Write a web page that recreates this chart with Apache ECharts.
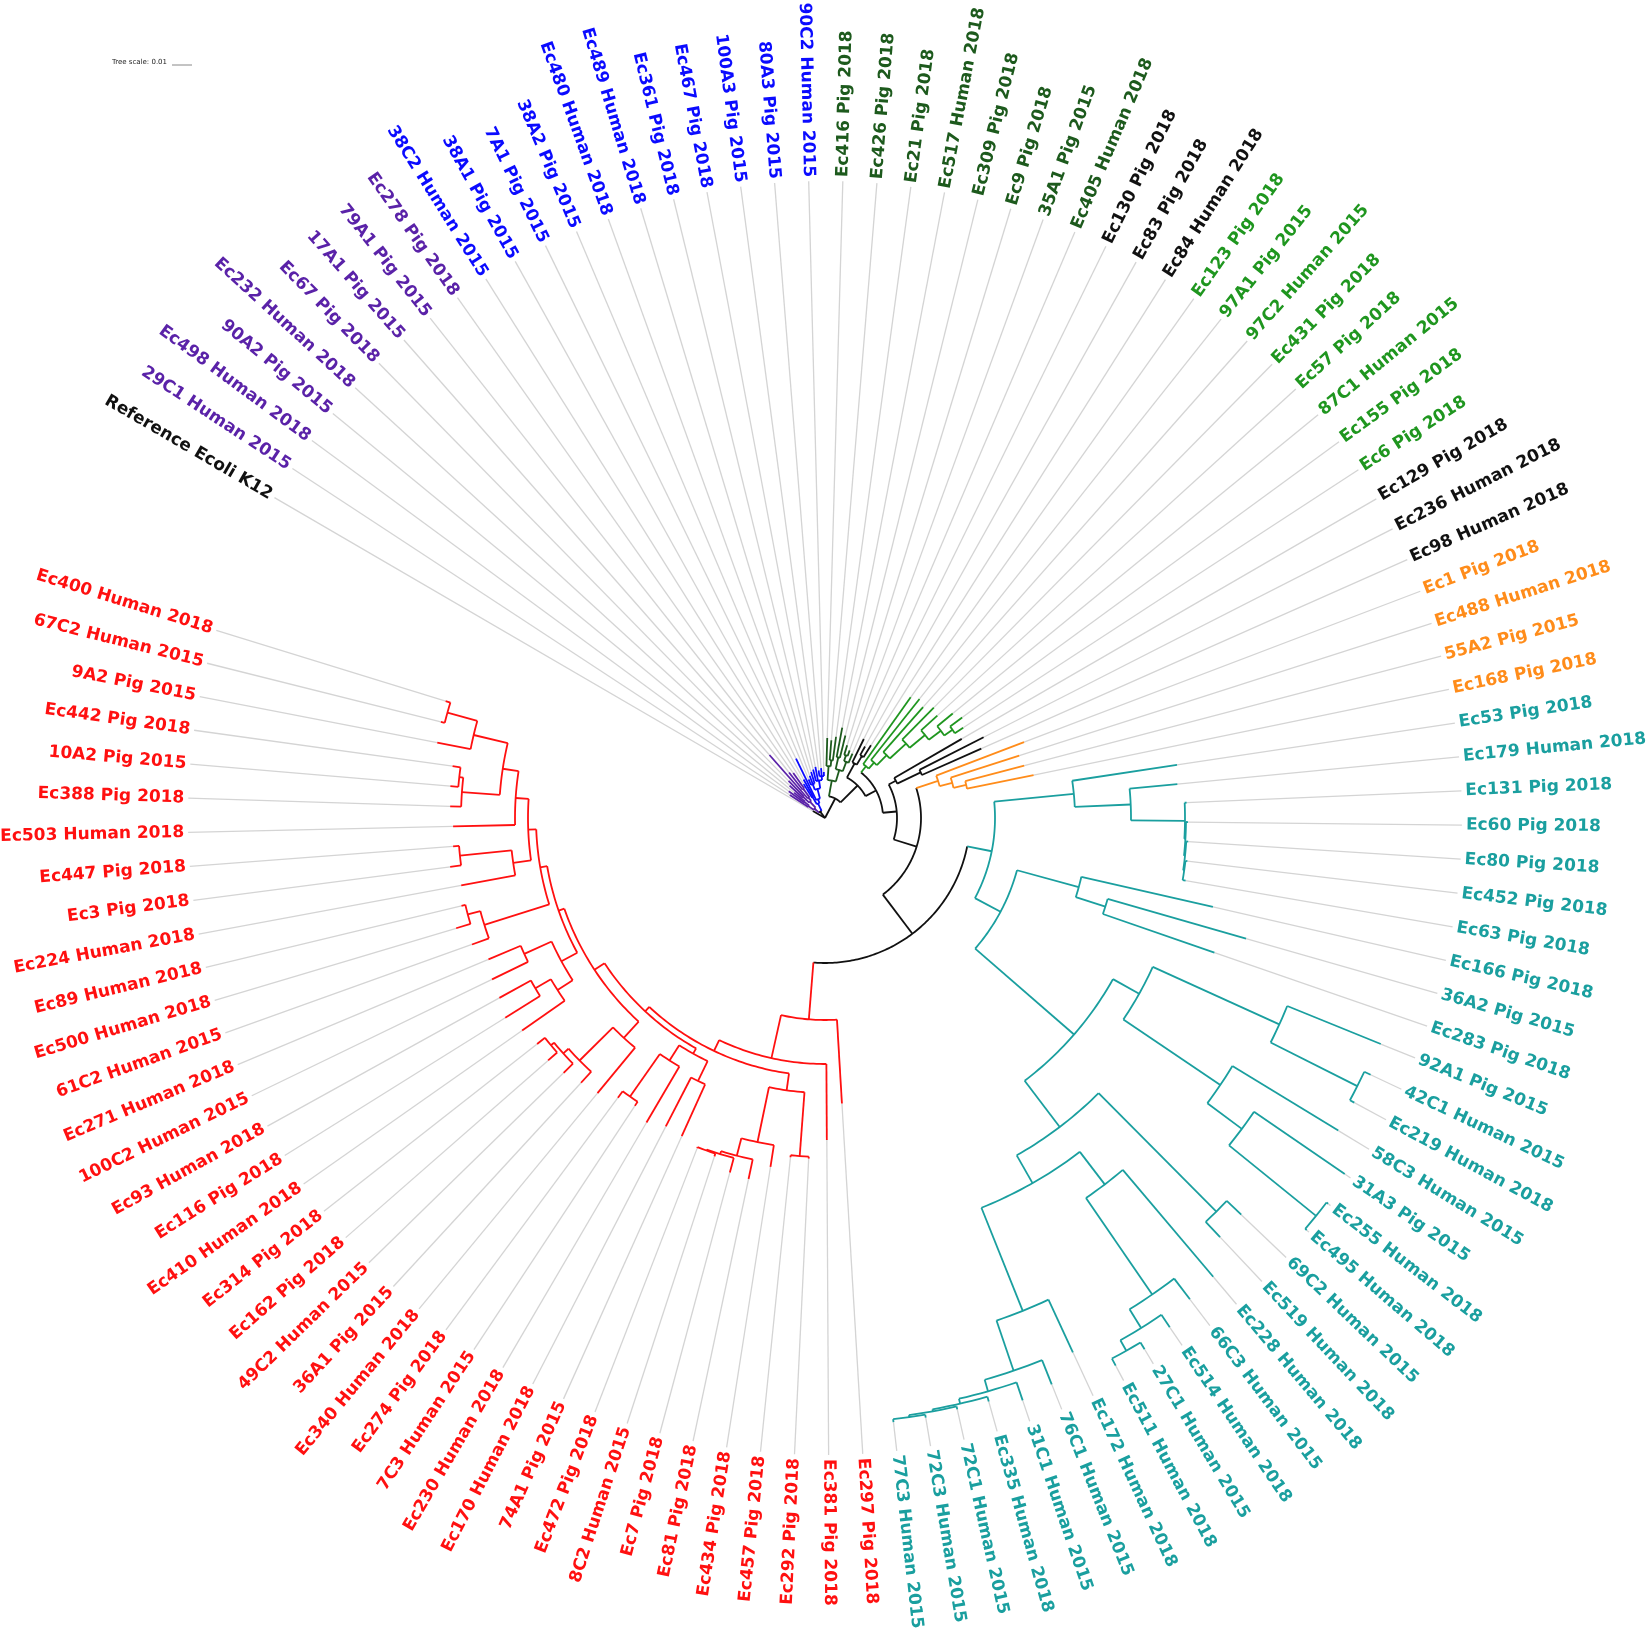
<!DOCTYPE html>
<html>
<head>
<meta charset="utf-8">
<title>E. coli isolates - circular tree</title>
<script src="https://cdn.jsdelivr.net/npm/echarts@6.0.0/dist/echarts.min.js"></script>
<style>
html,body{margin:0;padding:0;background:#fff;}
#main{width:1650px;height:1632px;}
</style>
</head>
<body>
<div id="main"></div>
<script>
// leaves, clockwise from the reference strain
var leafNames = [
  "Reference Ecoli K12",
  "29C1 Human 2015","Ec498 Human 2018","90A2 Pig 2015","Ec232 Human 2018","Ec67 Pig 2018","17A1 Pig 2015","79A1 Pig 2015","Ec278 Pig 2018",
  "38C2 Human 2015","38A1 Pig 2015","7A1 Pig 2015","38A2 Pig 2015","Ec480 Human 2018","Ec489 Human 2018","Ec361 Pig 2018","Ec467 Pig 2018","100A3 Pig 2015","80A3 Pig 2015","90C2 Human 2015",
  "Ec416 Pig 2018","Ec426 Pig 2018","Ec21 Pig 2018","Ec517 Human 2018","Ec309 Pig 2018","Ec9 Pig 2018","35A1 Pig 2015","Ec405 Human 2018",
  "Ec130 Pig 2018","Ec83 Pig 2018","Ec84 Human 2018",
  "Ec123 Pig 2018","97A1 Pig 2015","97C2 Human 2015","Ec431 Pig 2018","Ec57 Pig 2018","87C1 Human 2015","Ec155 Pig 2018","Ec6 Pig 2018",
  "Ec129 Pig 2018","Ec236 Human 2018","Ec98 Human 2018",
  "Ec1 Pig 2018","Ec488 Human 2018","55A2 Pig 2015","Ec168 Pig 2018",
  "Ec53 Pig 2018","Ec179 Human 2018","Ec131 Pig 2018","Ec60 Pig 2018","Ec80 Pig 2018","Ec452 Pig 2018","Ec63 Pig 2018","Ec166 Pig 2018","36A2 Pig 2015","Ec283 Pig 2018",
  "92A1 Pig 2015","42C1 Human 2015","Ec219 Human 2018","58C3 Human 2015","31A3 Pig 2015","Ec255 Human 2018","Ec495 Human 2018","69C2 Human 2015","Ec519 Human 2018","Ec228 Human 2018",
  "66C3 Human 2015","Ec514 Human 2018","27C1 Human 2015","Ec511 Human 2018","Ec172 Human 2018","76C1 Human 2015","31C1 Human 2015","Ec335 Human 2018","72C1 Human 2015","72C3 Human 2015","77C3 Human 2015",
  "Ec297 Pig 2018","Ec381 Pig 2018","Ec292 Pig 2018","Ec457 Pig 2018","Ec434 Pig 2018","Ec81 Pig 2018","Ec7 Pig 2018","8C2 Human 2015","Ec472 Pig 2018","74A1 Pig 2015",
  "Ec170 Human 2018","Ec230 Human 2018","7C3 Human 2015","Ec274 Pig 2018","Ec340 Human 2018","36A1 Pig 2015","49C2 Human 2015","Ec162 Pig 2018","Ec314 Pig 2018","Ec410 Human 2018",
  "Ec116 Pig 2018","Ec93 Human 2018","100C2 Human 2015","Ec271 Human 2018","61C2 Human 2015","Ec500 Human 2018","Ec89 Human 2018","Ec224 Human 2018","Ec3 Pig 2018","Ec447 Pig 2018",
  "Ec503 Human 2018","Ec388 Pig 2018","10A2 Pig 2015","Ec442 Pig 2018","9A2 Pig 2015","67C2 Human 2015","Ec400 Human 2018"
];

// colour groups along the leaf order
var cladeColors = {black:'#111111', purple:'#5a22a8', blue:'#0b0bff', dkgreen:'#1d5a1d', green:'#1f961f', orange:'#ff8c1a', teal:'#1a9f9f', red:'#ff1010'};
var cladeOrder = ['black','purple','blue','dkgreen','black','green','black','orange','teal','red'];
var cladeSizes = [1, 8, 11, 8, 3, 8, 3, 4, 31, 37];

// distance from root to each tip (tree units)
var tipDepth = [
  14,
  42,45,40,48,52,84,58,55,
  40,44,66,42,45,48,50,52,48,50,46,
  80,78,82,92,85,76,72,70,
  88,82,86,
  148,152,148,155,152,165,170,165,
  158,178,171,
  213,204,206,213,
  356,354,362,363,364,365,366,398,438,412,600,603,601,601,630,634,634,575,576,601,604,615,620,620,589,610,615,606,606,608,608,
  286,322,341,341,353,369,367,356,354,349,347,353,345,348,357,360,365,368,366,370,377,372,370,365,375,385,374,370,378,373,372,375,376,376,395,396,397
];

// topology: leaves by index, internal nodes followed by ":distance from root"
var cladePurple = "((1,(2,3):26):20,((4,5):30,(6,(7,8):36):26):22):14";
var cladeBlue   = "((9,10):24,(11,((12,13,14):36,(15,16,(17,18,19):42):38):30):20):16";
var cladeDkGreen = "((20,(21,22):58):52,((23,24):62,((25,26):66,27):60):50):38";
var cladeBlack1 = "(28,(29,30):72):62";
var cladeGreen  = "(31,(32,(33,(34,(35,(36,(37,38):155):145):130):110):88):74):66";
var cladeBlack2 = "(39,(40,41):106):80";
var cladeOrange = "(42,(43,(44,45):145):132):119";
var cladeTeal = "((46,(47,(48,(49,(50,(51,52):363):362):361):360):306):250," +
  "((53,(54,55):294):263," +
  "(((56,(57,58):596):499,(59,(60,(61,62):632):520):477):360," +
  "((63,64):555,((65,(66,(67,(68,69):612):600):578):461,(70,(71,(72,(73,(74,(75,76):605):603):601):596):584):531):420):388):330):199):170";
var cladeRed = "(77,(78,(((79,80):339,(81,(82,(83,(84,85):353):352):349):331):275," +
  "(((86,87):292,(88,(89,90):340):288):270," +
  "((91,(92,(93,(94,95):356):352):345):298," +
  "(((96,(97,98):336):318,(99,100):330):300," +
  "((101,(102,103):370):357,((104,(105,106):367):315,(107,((108,(109,110):368):364,(111,(112,113):392):361):326):310):297):289):282):276):264):258):246):202";
var treeNewick = "(0,(" + cladePurple + "," + cladeBlue + "):8,(" + cladeDkGreen + ",(" + cladeBlack1 + ",(" + cladeGreen +
  ",(" + cladeBlack2 + ",(" + cladeOrange + ",(" + cladeTeal + "," + cladeRed + "):145):96):72):58):46):22):0";

var leafColor = [];
cladeOrder.forEach(function (c, k) {
  for (var j = 0; j < cladeSizes[k]; j++) leafColor.push(cladeColors[c]);
});

function parseTree(s) {
  s = s.replace(/\s+/g, '');
  var pos = 0;
  function node() {
    var m;
    if (s[pos] === '(') {
      pos++;
      var children = [];
      while (true) {
        children.push(node());
        if (s[pos] === ',') { pos++; continue; }
        pos++; // ')'
        break;
      }
      var depth = 0;
      if (s[pos] === ':') {
        pos++;
        m = /^[0-9.]+/.exec(s.slice(pos));
        depth = +m[0];
        pos += m[0].length;
      }
      return {children: children, depth: depth};
    }
    m = /^[0-9]+/.exec(s.slice(pos));
    pos += m[0].length;
    return {leaf: +m[0], depth: tipDepth[+m[0]]};
  }
  return node();
}

// iTOL style: node angle = middle of its first and last child
function layout(n) {
  if (n.children) {
    n.children.forEach(layout);
    var first = n.children[0], last = n.children[n.children.length - 1];
    n.angle = (first.angle + last.angle) / 2;
    var col = first.color;
    n.children.forEach(function (c) { if (c.color !== col) col = '#111111'; });
    n.color = col;
  } else {
    n.angle = n.leaf;
    n.color = leafColor[n.leaf];
  }
}

var tree = parseTree(treeNewick);
layout(tree);

var branchData = [];
function collect(n, parentDepth) {
  branchData.push({value: [parentDepth, n.depth, n.angle, n.angle], itemStyle: {color: n.color}});
  if (n.children) {
    var a0 = n.children[0].angle, a1 = n.children[n.children.length - 1].angle;
    branchData.push({value: [n.depth, n.depth, a0, a1], itemStyle: {color: n.color}});
    n.children.forEach(function (c) { collect(c, n.depth); });
  }
}
collect(tree, 0);

var leaderEnd = 637, labelR = 641, maxR = 660;
var leaderData = [], labelData = [];
for (var i = 0; i < leafNames.length; i++) {
  leaderData.push({value: [tipDepth[i], leaderEnd, i, i]});
  labelData.push({value: [labelR, i], name: leafNames[i]});
}

// 350 degree arc, leaves evenly spaced
var degPerLeaf = 350 / leafNames.length;
var angleMin = -0.5 - (360 - 350) / 2 / degPerLeaf;
var angleMax = angleMin + 360 / degPerLeaf;
var firstLeafAngle = -59.8; // clockwise from 12 o'clock
var startAngle = 90 - firstLeafAngle + (0 - angleMin) * degPerLeaf;

function renderSegment(params, api) {
  var r0 = api.value(0), r1 = api.value(1), a0 = api.value(2), a1 = api.value(3);
  var pts = [];
  if (a0 === a1) {
    pts.push(api.coord([r0, a0]), api.coord([r1, a0]));
  } else {
    var n = Math.max(2, Math.ceil(Math.abs(a1 - a0) * 4));
    for (var k = 0; k <= n; k++) pts.push(api.coord([r0, a0 + (a1 - a0) * k / n]));
  }
  return {
    type: 'polyline',
    shape: {points: pts},
    style: {stroke: api.visual('color'), lineWidth: params.seriesIndex === 0 ? 1.3 : 1.8, fill: null}
  };
}

function renderLabel(params, api) {
  var idx = api.value(1);
  var p = api.coord([api.value(0), idx]);
  var c = api.coord([0, idx]);
  var phi = Math.atan2(p[1] - c[1], p[0] - c[0]);
  var right = p[0] >= c[0] - 0.01;
  return {
    type: 'text',
    x: p[0], y: p[1],
    rotation: right ? -phi : Math.PI - phi,
    style: {
      text: leafNames[params.dataIndex],
      fill: leafColor[params.dataIndex],
      font: 'bold 17px "DejaVu Sans"',
      align: right ? 'left' : 'right',
      verticalAlign: 'middle'
    }
  };
}

var chart = echarts.init(document.getElementById('main'));
var option = {
  animation: false,
  backgroundColor: '#ffffff',
  polar: {center: [825, 818], radius: [0, maxR]},
  angleAxis: {type: 'value', min: angleMin, max: angleMax, startAngle: startAngle, clockwise: true, show: false},
  radiusAxis: {type: 'value', min: 0, max: maxR, show: false},
  graphic: [
    {type: 'text', left: 112, top: 59, style: {text: 'Tree scale: 0.01', font: '7px "DejaVu Sans"', fill: '#222'}},
    {type: 'line', shape: {x1: 172, y1: 65, x2: 192, y2: 65}, style: {stroke: '#888', lineWidth: 1}}
  ],
  series: [
    {
      type: 'custom', name: 'leaders', coordinateSystem: 'polar', silent: true, clip: false,
      itemStyle: {color: '#d4d4d4'},
      encode: {radius: [0, 1], angle: [2, 3]},
      renderItem: renderSegment, data: leaderData
    },
    {
      type: 'custom', name: 'branches', coordinateSystem: 'polar', silent: true, clip: false,
      encode: {radius: [0, 1], angle: [2, 3]},
      renderItem: renderSegment, data: branchData
    },
    {
      type: 'custom', name: 'labels', coordinateSystem: 'polar', silent: true, clip: false,
      encode: {radius: 0, angle: 1},
      renderItem: renderLabel, data: labelData
    }
  ]
};
chart.setOption(option);
</script>
</body>
</html>
